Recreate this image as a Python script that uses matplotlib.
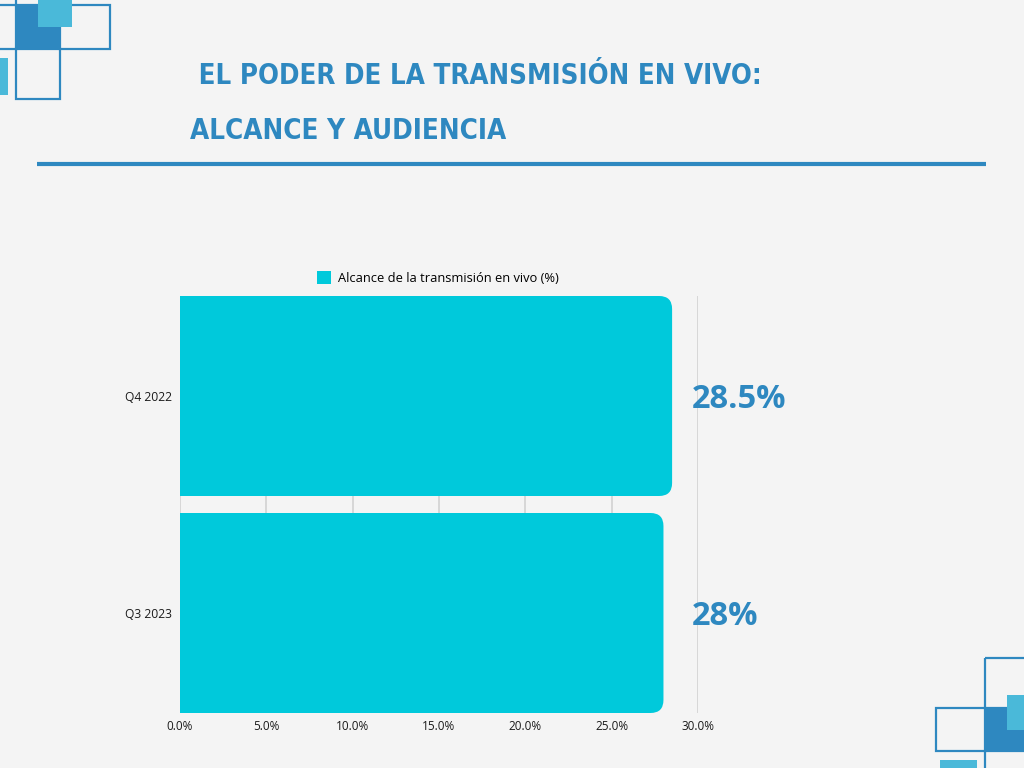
import matplotlib.pyplot as plt
from matplotlib.patches import Patch, PathPatch, Rectangle
from matplotlib.path import Path
from matplotlib.transforms import blended_transform_factory

# Datos
periods = ["Q4 2022", "Q3 2023"]
reach = [28.5, 28.0]
value_labels = ["28.5%", "28%"]
x_ticks = [0, 5, 10, 15, 20, 25, 30]
series_name = "Alcance de la transmisión en vivo (%)"
title_lines = [" EL PODER DE LA TRANSMISIÓN EN VIVO:", "ALCANCE Y AUDIENCIA"]

BG = "#f4f4f4"
CYAN = "#00c9db"
BLUE = "#2e88c0"
LIGHT = "#4ab9d9"
GRID = "#d2d2d2"
BODY_FONT = ["Open Sans", "DejaVu Sans"]
TITLE_FONT = ["Liberation Sans Narrow", "DejaVu Sans"]

W, H = 1024, 768
fig = plt.figure(figsize=(W / 100, H / 100), dpi=100, facecolor=BG)

# capa de decoracion en pixeles
deco = fig.add_axes([0, 0, 1, 1])
deco.set_xlim(0, W)
deco.set_ylim(H, 0)
deco.axis("off")


def square(x, y, w, h, filled, color=BLUE):
    if filled:
        deco.add_patch(Rectangle((x, y), w, h, facecolor=color, edgecolor="none"))
    else:
        deco.add_patch(Rectangle((x, y), w, h, facecolor="none",
                                 edgecolor=color, linewidth=1.6))


# esquina superior izquierda
square(-28, 5, 44, 44, False)
square(16, -39, 44, 44, False)
square(60, 5, 50, 44, False)
square(16, 49, 44, 50, False)
square(16, 5, 44, 44, True)
square(38, -10, 34, 37, True, LIGHT)
square(-5, 58, 13, 37, True, LIGHT)

# esquina inferior derecha
square(985, 658, 50, 50, False)
square(936, 708, 49, 43, False)
square(985, 751, 50, 40, False)
square(985, 708, 45, 43, True)
square(1007, 695, 25, 35, True, LIGHT)
square(940, 760, 37, 15, True, LIGHT)

# linea bajo el titulo
deco.plot([37, 986], [164, 164], color=BLUE, linewidth=3, solid_capstyle="butt")

# titulo
t1 = deco.text(190, 84, title_lines[0], family=TITLE_FONT, fontweight="bold",
               fontstretch="condensed", color=BLUE, fontsize=30, va="baseline")
t2 = deco.text(190, 139, title_lines[1], family=TITLE_FONT, fontweight="bold",
               fontstretch="condensed", color=BLUE, fontsize=30, va="baseline")
fig.canvas.draw()
renderer = fig.canvas.get_renderer()
for t, target in ((t1, 572), (t2, 316)):
    width = t.get_window_extent(renderer).width
    t.set_fontsize(t.get_fontsize() * target / width)

# grafico
ax_left, ax_right, ax_top, ax_bottom = 180, 698, 296, 713
ax = fig.add_axes([ax_left / W, 1 - ax_bottom / H,
                   (ax_right - ax_left) / W, (ax_bottom - ax_top) / H])
ax.patch.set_alpha(0)

bar_h = 200 / 217
ypos = list(range(len(periods)))
bars = ax.barh(ypos, reach, height=bar_h, color=CYAN, zorder=2)
ax.set_xlim(0, 30)
ax.set_ylim(len(periods) - 1 + bar_h / 2, -bar_h / 2)

# esquinas redondeadas a la derecha
r_px = 13
rx = r_px * 30 / (ax_right - ax_left)
ry = r_px * (len(periods) - 1 + bar_h) / (ax_bottom - ax_top)
for rect in bars:
    x0, y0 = rect.get_x(), rect.get_y()
    x1, y1 = x0 + rect.get_width(), y0 + rect.get_height()
    verts = [(x0, y0), (x1 - rx, y0), (x1, y0), (x1, y0 + ry),
             (x1, y1 - ry), (x1, y1), (x1 - rx, y1), (x0, y1), (x0, y0)]
    codes = [Path.MOVETO, Path.LINETO, Path.CURVE3, Path.CURVE3,
             Path.LINETO, Path.CURVE3, Path.CURVE3, Path.LINETO, Path.CLOSEPOLY]
    rect.set_visible(False)
    ax.add_patch(PathPatch(Path(verts, codes), facecolor=CYAN,
                           edgecolor="none", zorder=2))

ax.set_xticks(x_ticks)
ax.set_xticklabels([f"{v:.1f}%" for v in x_ticks], family=BODY_FONT, fontsize=8.5)
ax.set_yticks(ypos)
ax.set_yticklabels(periods, family=BODY_FONT, fontsize=8.7)
ax.tick_params(axis="both", length=0, colors="#1a1a1a")
ax.tick_params(axis="x", pad=5)
ax.tick_params(axis="y", pad=6)
ax.xaxis.grid(True, color=GRID, linewidth=1.2, zorder=0)
ax.set_axisbelow(True)
for s in ax.spines.values():
    s.set_visible(False)

# etiquetas de valor
trans = blended_transform_factory(ax.transAxes, ax.transData)
for y, lab in zip(ypos, value_labels):
    ax.text((692 - ax_left) / (ax_right - ax_left), y + 0.015, lab, transform=trans,
            family=BODY_FONT, fontweight="bold", fontsize=23.5, color=BLUE,
            va="center", ha="left")

# leyenda
ax.legend(handles=[Patch(facecolor=CYAN, edgecolor="none", label=series_name)],
          loc="center", bbox_to_anchor=(0.498, 1 + 18 / (ax_bottom - ax_top)),
          frameon=False, handlelength=1.1, handleheight=1.1, handletextpad=0.55,
          prop={"family": BODY_FONT, "size": 9.3})

fig.savefig("out.png", dpi=100, facecolor=BG)
